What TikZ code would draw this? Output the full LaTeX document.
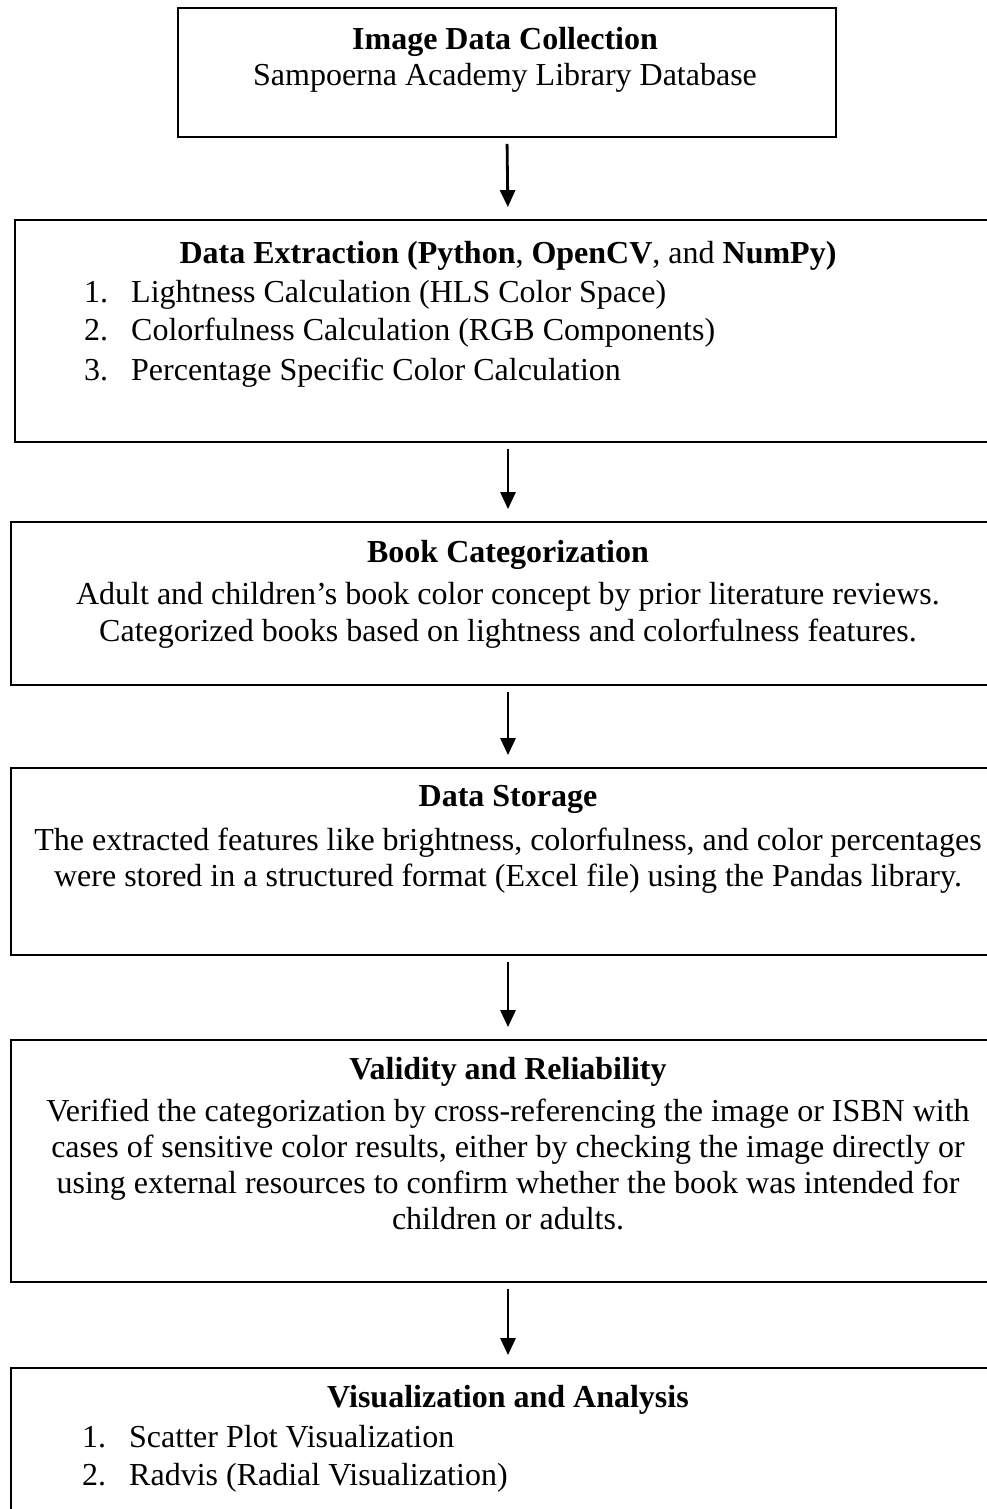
\documentclass[tikz,border=0pt]{standalone}
\usepackage{fontspec}
\setmainfont{Liberation Serif}
\usetikzlibrary{arrows.meta}
\tikzset{
  box/.style={draw, line width=1.8pt, rectangle, inner sep=0pt},
  flow/.style={line width=2.8pt, -{Triangle[length=17pt,width=15pt]}, shorten <=6pt, shorten >=12pt},
  txt/.style={anchor=base, inner sep=0pt, font=\fontsize{32}{38}\selectfont},
  lnum/.style={anchor=base west, inner sep=0pt, font=\fontsize{32}{38}\selectfont},
}
\begin{document}
\begin{tikzpicture}[x=1pt,y=-1pt]
\useasboundingbox (0,0) rectangle (987,1509);
% boxes
\node[box, minimum width=658pt, minimum height=129pt] (b1) at (507,72.5) {};
\node[box, minimum width=986pt, minimum height=222pt] (b2) at (508,331) {};
\node[box, minimum width=994pt, minimum height=163pt] (b3) at (508,603.5) {};
\node[box, minimum width=994pt, minimum height=187pt] (b4) at (508,861.5) {};
\node[box, minimum width=994pt, minimum height=242pt] (b5) at (508,1161) {};
\node[box, minimum width=994pt, minimum height=172pt] (b6) at (508,1454) {};
% arrows
\draw[flow] (b1.south) -- (b2.north);
\draw[flow] (b2.south) -- (b3.north);
\draw[flow] (b3.south) -- (b4.north);
\draw[flow] (b4.south) -- (b5.north);
\draw[flow] (b5.south) -- (b6.north);
% box 1
\node[txt] (t1a) at (505,50) {\textbf{Image Data Collection}};
\node[txt] (t1b) at (505,86) {Sampoerna Academy Library Database};
% box 2
\node[txt] (t2a) at (508,263) {\textbf{Data Extraction (Python}, \textbf{OpenCV}, and \textbf{NumPy)}};
\node[lnum] (n21) at (84,302) {1.};
\node[lnum] (t21) at (131,302) {Lightness Calculation (HLS Color Space)};
\node[lnum] (n22) at (84,340) {2.};
\node[lnum] (t22) at (131,340) {Colorfulness Calculation (RGB Components)};
\node[lnum] (n23) at (84,380) {3.};
\node[lnum] (t23) at (131,380) {Percentage Specific Color Calculation};
% box 3
\node[txt] (t3a) at (508,562) {\textbf{Book Categorization}};
\node[txt] (t3b) at (508,604) {Adult and children’s book color concept by prior literature reviews.};
\node[txt] (t3c) at (508,641) {Categorized books based on lightness and colorfulness features.};
% box 4
\node[txt] (t4a) at (508,806) {\textbf{Data Storage}};
\node[txt] (t4b) at (508,850) {The extracted features like brightness, colorfulness, and color percentages};
\node[txt] (t4c) at (508,886) {were stored in a structured format (Excel file) using the Pandas library.};
% box 5
\node[txt] (t5a) at (508,1079) {\textbf{Validity and Reliability}};
\node[txt] (t5b) at (508,1121) {Verified the categorization by cross-referencing the image or ISBN with};
\node[txt] (t5c) at (508,1157) {cases of sensitive color results, either by checking the image directly or};
\node[txt] (t5d) at (508,1193) {using external resources to confirm whether the book was intended for};
\node[txt] (t5e) at (508,1229) {children or adults.};
% box 6
\node[txt] (t6a) at (508,1407) {\textbf{Visualization and Analysis}};
\node[lnum] (n61) at (82,1447) {1.};
\node[lnum] (t61) at (129,1447) {Scatter Plot Visualization};
\node[lnum] (n62) at (82,1485) {2.};
\node[lnum] (t62) at (129,1485) {Radvis (Radial Visualization)};
\end{tikzpicture}
\end{document}
